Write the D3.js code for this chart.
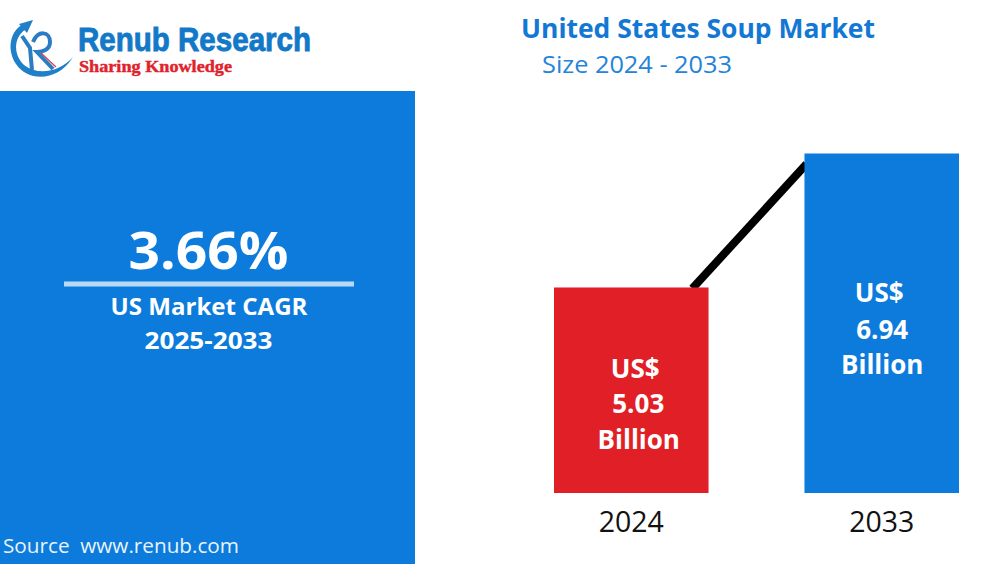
<!DOCTYPE html>
<html><head><meta charset="utf-8">
<script src="https://cdn.jsdelivr.net/npm/d3@7"></script>
<style>html,body{margin:0;padding:0;background:#fff;overflow:hidden}svg{display:block}text{font-family:"Open Sans",sans-serif;white-space:pre}</style>
</head><body><svg id="c" width="991" height="564"></svg>
<script>
const categories = ["2024","2033"];
const values = [5.03,6.94];
const valueLabels = [["US$","5.03","Billion"],["US$","6.94","Billion"]];
const barColors = ["#e11f26","#0d7bdb"];
const cagrLines = ["US Market CAGR","2025-2033"];
const blue="#0d7bdb";
const svg=d3.select("#c");
const x=d3.scaleBand().domain(categories).range([554,959]).paddingInner(0.383);
const y=d3.scaleLinear().domain([2.1,6.94]).range([493,153.5]);
function t(s,px,py,size,weight,fill,anchor,len){
  const e=svg.append("text").attr("x",px).attr("y",py).attr("font-size",size).attr("font-weight",weight).attr("fill",fill).attr("text-anchor",anchor||"start").text(s);
  if(len)e.attr("textLength",len).attr("lengthAdjust","spacingAndGlyphs");
  return e;
}
// left panel
svg.append("rect").attr("x",0).attr("y",91).attr("width",415).attr("height",473).attr("fill",blue);
t("3.66%",208.5,269,52,700,"#fff","middle",160);
svg.append("rect").attr("x",64).attr("y",281.5).attr("width",290).attr("height",5).attr("fill","#b9daf5");
t(cagrLines[0],209,315,24,700,"#fff","middle",197);
t(cagrLines[1],208.5,349,24,700,"#fff","middle",128);
t("Source  www.renub.com",3,553,20,400,"#e8f3fc","start",236);
// titles
t("United States Soup Market",521,38,26,700,"#1278d3","start",354);
t("Size 2024 - 2033",542,73,24,400,"#2583d8","start",190);
// connector
svg.append("line").attr("x1",x("2024")+x.bandwidth()*0.895).attr("y1",y(values[0])+1)
  .attr("x2",x("2033")+2).attr("y2",y(6.79)).attr("stroke","#000").attr("stroke-width",8);
// bars
svg.selectAll("rect.bar").data(categories).join("rect").attr("class","bar")
  .attr("x",d=>x(d)).attr("width",x.bandwidth())
  .attr("y",(d,i)=>y(values[i])).attr("height",(d,i)=>y.range()[0]-y(values[i]))
  .attr("fill",(d,i)=>barColors[i]);
// value labels
const offs=[[377.5,412.5,448.5],[301.5,338.5,373.5]];
const dxs=[[4,7,7.5],[-2.5,0.5,0.5]];
categories.forEach((c,i)=>{
  const cx=x(c)+x.bandwidth()/2;
  valueLabels[i].forEach((s,j)=>t(s,cx+dxs[i][j],offs[i][j],26,700,"#fff","middle"));
});
// axis
const ax=svg.append("g").attr("transform","translate(0,493)").call(d3.axisBottom(x).tickSize(0).tickPadding(16));
ax.select(".domain").remove();
ax.selectAll("text").attr("font-size",28.5).attr("fill","#111").attr("dy","0.8em").style("font-family",'"Open Sans",sans-serif');
// logo
const logo=svg.append("g");
t("Renub Research",78,50.5,34,700,"#1278c8","start",233).style("font-family",'"Liberation Sans Narrow",sans-serif').attr("stroke","#1278c8").attr("stroke-width",0.9);
t("Sharing Knowledge",79,72,16,700,"#e0222c","start",153).style("font-family",'"Liberation Serif",serif').attr("stroke","#e0222c").attr("stroke-width",0.4);
logo.append("path").attr("d","M31 22 C11 24 5 48 16 64 C28 82 58 82 73 57 C60 72 38 76 24 65 C12 53 14 35 28 28 Z").attr("fill","#1f7fc8");
logo.append("path").attr("d","M19 24 L33 20 L27 33 Z").attr("fill","#1f7fc8");
logo.append("path").attr("d","M22 36 L30 48 L32 70 M33 42 C38 30 50 31 50 42 C50 50 42 52 37 52 L53 69").attr("fill","none").attr("stroke","#2a7cc4").attr("stroke-width",4);
logo.append("path").attr("d","M41 53 L56 67").attr("stroke","#d9414a").attr("stroke-width",1.2);
</script></body></html>
